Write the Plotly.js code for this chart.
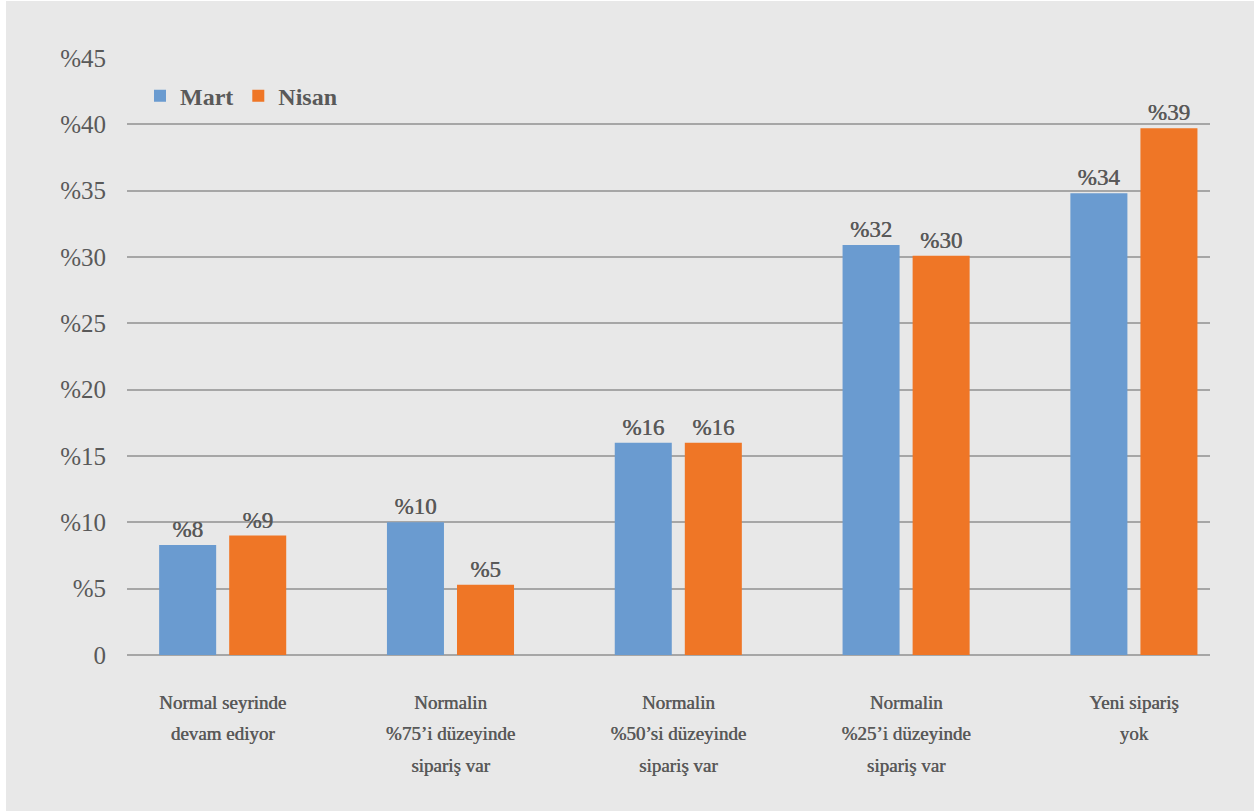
<!DOCTYPE html>
<html>
<head>
<meta charset="utf-8">
<script src="https://cdn.plot.ly/plotly-3.0.1.min.js"></script>
<style>
html,body{margin:0;padding:0;background:#ffffff;}
#chart{position:absolute;left:6px;top:1px;width:1248px;height:810px;}
</style>
</head>
<body>
<div id="chart"></div>
<script>
// Data
const categories = [
  "Normal seyrinde<br>devam ediyor",
  "Normalin<br>%75’i düzeyinde<br>sipariş var",
  "Normalin<br>%50’si düzeyinde<br>sipariş var",
  "Normalin<br>%25’i düzeyinde<br>sipariş var",
  "Yeni sipariş<br>yok"
];
const seriesNames = ["Mart", "Nisan"];
const martValues = [8.3, 10.0, 16.0, 30.9, 34.8];
const nisanValues = [9.0, 5.3, 16.0, 30.1, 39.7];
const martLabels = ["%8", "%10", "%16", "%32", "%34"];
const nisanLabels = ["%9", "%5", "%16", "%30", "%39"];
const yTickValues = [0, 5, 10, 15, 20, 25, 30, 35, 40, 45];
const yTickLabels = ["0", "%5", "%10", "%15", "%20", "%25", "%30", "%35", "%40", "%45"];

const FONT = "Liberation Serif, DejaVu Serif, serif";
const TEXT = "#595959";
const GRID = "#a6a6a6";
const SEMI = "0.45px 0 0 #595959";

const xIdx = categories.map((c, i) => i);
const tickText = categories.map(c => c.split("<br>").map(l => "<span style='font-size:19px'>" + l + "</span>").join("<br>"));

const traces = [
  {
    type: "bar", name: seriesNames[0], x: xIdx, y: martValues,
    text: martLabels, textposition: "outside", cliponaxis: false,
    textfont: {family: FONT, size: 23, color: TEXT, shadow: SEMI},
    marker: {color: "#6a9bd0"}, hoverinfo: "skip"
  },
  {
    type: "bar", name: seriesNames[1], x: xIdx, y: nisanValues,
    text: nisanLabels, textposition: "outside", cliponaxis: false,
    textfont: {family: FONT, size: 23, color: TEXT, shadow: SEMI},
    marker: {color: "#ef7626"}, hoverinfo: "skip"
  }
];

const layout = {
  width: 1248, height: 810,
  paper_bgcolor: "#e8e8e8", plot_bgcolor: "#e8e8e8",
  margin: {l: 121, r: 44, t: 57, b: 156},
  barmode: "group", bargap: 0.385, bargroupgap: 0.186,
  font: {family: FONT, color: TEXT},
  showlegend: true,
  legend: {
    orientation: "h", x: 0.012, xanchor: "left", y: 0.936, yanchor: "middle",
    bgcolor: "rgba(0,0,0,0)", font: {family: FONT, size: 24, color: TEXT, weight: "bold"},
    itemwidth: 30, itemclick: false, itemdoubleclick: false
  },
  xaxis: {
    type: "linear", range: [-0.42, 4.334],
    tickmode: "array", tickvals: xIdx, ticktext: tickText,
    tickfont: {family: FONT, size: 24.5, color: TEXT, shadow: SEMI},
    showgrid: false, zeroline: false, showline: false, ticks: "",
    ticklabelstandoff: 28, fixedrange: true
  },
  yaxis: {
    range: [0, 45], tickmode: "array", tickvals: yTickValues, ticktext: yTickLabels,
    tickfont: {family: FONT, size: 25, color: TEXT},
    showgrid: true, gridcolor: GRID, gridwidth: 2,
    zeroline: true, zerolinecolor: GRID, zerolinewidth: 2,
    showline: false, ticks: "", ticklabelstandoff: 20, fixedrange: true
  }
};

Plotly.newPlot("chart", traces, layout, {displayModeBar: false, staticPlot: true});
</script>
</body>
</html>
